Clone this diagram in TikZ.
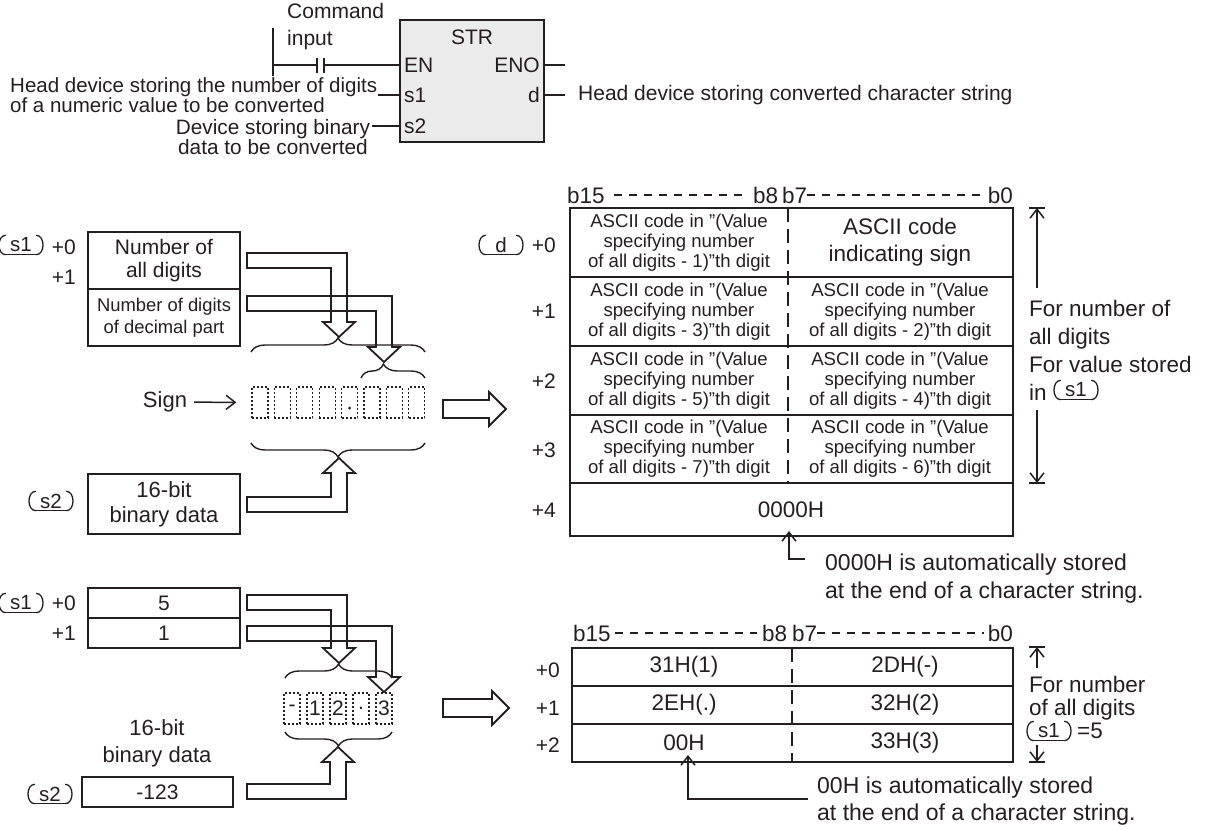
\documentclass[tikz,border=0pt]{standalone}
\usepackage{fontspec}
\setmainfont{Liberation Sans}
\usetikzlibrary{arrows.meta,decorations.pathreplacing}
\definecolor{ink}{HTML}{231F20}
\definecolor{fbgray}{HTML}{EBEBEB}

\tikzset{
  txt/.style={font=\fontsize{21}{24}\selectfont},
  txtb/.style={font=\fontsize{22.5}{28}\selectfont},
  cell/.style={font=\fontsize{18.6}{20}\selectfont,align=center},
  wire/.style={draw=ink,line width=1.8pt},
  frame/.style={draw=ink,line width=2pt},
  pipe/.style={draw=ink,line width=1.8pt,line join=miter},
  digit/.style={draw=ink,line width=1.3pt,dash pattern=on 2pt off 2pt,
    minimum width=16pt,minimum height=31pt,font=\fontsize{21}{24}\selectfont},
  brc/.style={draw=ink,line width=1.4pt,decorate,decoration={brace,amplitude=14pt}},
  divide/.style={draw=ink,line width=1.8pt,dash pattern=on 14pt off 7pt},
  hdash/.style={draw=ink,line width=1.4pt,dash pattern=on 8pt off 7pt},
  tip/.style={draw=ink,line width=1.5pt,-{Straight Barb[length=9pt,width=14pt]}},
  opedge/.style={draw=ink,line width=1.3pt},
  opnd/.style={font=\fontsize{20.5}{20}\selectfont,minimum width=30pt,minimum height=19pt,
    append after command={
      (\tikzlastnode.north west) edge[opedge,out=180,in=180,looseness=1.2] (\tikzlastnode.south west)
      (\tikzlastnode.south west) edge[opedge] (\tikzlastnode.south east)
      (\tikzlastnode.north east) edge[opedge,out=0,in=0,looseness=1.2] (\tikzlastnode.south east)}},
}

% hollow pipe going right then down: #1 top of pipe, #2 shaft centre, #3 head base
\newcommand{\pipedown}[3]{%
  \draw[pipe] (247,#1) -- ({#2+8},#1) -- ({#2+8},#3) -- ({#2+16},#3) -- (#2,{#3+15})
    -- ({#2-16},#3) -- ({#2-8},#3) -- ({#2-8},{#1+15}) -- (247,{#1+15}) -- cycle;}
% hollow pipe going right then up
\newcommand{\pipeup}[3]{%
  \draw[pipe] (247,#1) -- ({#2-8},#1) -- ({#2-8},#3) -- ({#2-16},#3) -- (#2,{#3-15})
    -- ({#2+16},#3) -- ({#2+8},#3) -- ({#2+8},{#1+15}) -- (247,{#1+15}) -- cycle;}
% big hollow arrow: #1 start x, #2 centre y, #3 end of shaft
\newcommand{\fatarrow}[3]{%
  \draw[pipe] (#1,{#2-9}) -- (#3,{#2-9}) -- (#3,{#2-17}) -- ({#3+17},#2)
    -- (#3,{#2+17}) -- (#3,{#2+9}) -- (#1,{#2+9}) -- cycle;}
\newcommand{\qq}{\symbol{34}}

\begin{document}
\begin{tikzpicture}[x=1pt,y=-1pt,every node/.append style={inner sep=0pt,text=ink}]
  \useasboundingbox (0,0) rectangle (1208,830);

  % Ladder block
  \node[draw=ink,line width=2pt,fill=fbgray,minimum width=144pt,minimum height=122pt] (str) at (472,81) {};
  \node[txt] (strname) at (472,37) {STR};
  \node[txt,anchor=west] (en) at (404,65) {EN};
  \node[txt,anchor=west] (pins1) at (404,95) {s1};
  \node[txt,anchor=west] (pins2) at (404,126) {s2};
  \node[txt,anchor=east] (eno) at (540,65) {ENO};
  \node[txt,anchor=east] (pind) at (540,95) {d};

  \coordinate (railtop) at (273,28);
  \coordinate (railbot) at (273,76);
  \coordinate (cona) at (317,65);
  \coordinate (conb) at (324,65);
  \coordinate (enoend) at (565,65);
  \coordinate (s1end) at (378,95);
  \draw[wire] (railtop) -- (railbot);
  \draw[wire] (railtop |- en) -- (cona);
  \draw[wire] (conb) -- (str.west |- en);
  \draw[wire] ([yshift=7.5pt]cona) -- ([yshift=-7.5pt]cona);
  \draw[wire] ([yshift=7.5pt]conb) -- ([yshift=-7.5pt]conb);
  \draw[wire] (str.east |- eno) -- (enoend);

  \node[txt,anchor=west,align=left,font=\fontsize{21}{27}\selectfont] (cmd) at (287,26.5) {Command\\input};
  \node[font=\fontsize{20.5}{18}\selectfont,anchor=west,align=left] (s1txt) at (10,95)
    {Head device storing the number of digits\\of a numeric value to be converted};
  \draw[wire] (s1end) -- (str.west |- pins1);
  \node[font=\fontsize{20.8}{20}\selectfont,align=center] (s2txt) at (273,137) {Device storing binary\\data to be converted};
  \draw[wire] ([xshift=2pt]s2txt.east |- pins2) -- (str.west |- pins2);
  \node[txt,anchor=west] (dtxt) at (578,95) {Head device storing converted character string};
  \draw[wire] (str.east |- pind) -- ([xshift=-13pt]dtxt.west);

  % Upper example (left)
  \node[opnd] (s1a) at (21,245) {s1};
  \node[txt,anchor=east] (s1a0) at (76,247) {+0};
  \node[txt,anchor=east] (s1a1) at (76,277) {+1};
  \node[frame,minimum width=152pt,minimum height=57pt,font=\fontsize{21}{23}\selectfont,align=center] (nall) at (164,260.5) {Number of\\all digits};
  \node[frame,minimum width=152pt,minimum height=57pt,font=\fontsize{18.4}{22}\selectfont,align=center] (ndec) at (164,317.5) {Number of digits\\of decimal part};
  \node[opnd] (s2a) at (51,501) {s2};
  \node[frame,minimum width=152pt,minimum height=60pt,font=\fontsize{22}{25}\selectfont,align=center] (bina) at (164,504) {16-bit\\binary data};

  \foreach \i in {1,...,8}
    \node[digit] (da\i) at ({260+(\i-1)*22.4},402.5) {};
  \fill[ink] ([yshift=-5.5pt]da5.center) circle (1.6pt);
  \node[font=\fontsize{22}{24}\selectfont] (sign) at (165,402) {Sign};
  \draw[tip,shorten <=7pt,shorten >=15pt] (sign) -- (da1);

  \draw[brc] (251,352) -- (425,352);
  \draw[brc,decoration={brace,amplitude=14pt,aspect=0.35}] (361,378) -- (425,378);
  \draw[brc] (425,443) -- (251,443);
  \pipedown{253}{339}{322}
  \pipedown{296}{384}{347}
  \pipeup{497}{339}{473}
  \fatarrow{443}{409}{489}

  % Result table (upper right)
  \node[txtb,anchor=west] (hb15) at (567,195) {b15};
  \node[txtb,anchor=west] (hb8) at (753,195) {b8};
  \node[txtb,anchor=west] (hb7) at (782,195) {b7};
  \node[txtb,anchor=east] (hb0) at (1013,195) {b0};
  \draw[hdash,shorten <=9pt,shorten >=5pt] (hb15) -- (hb8);
  \draw[hdash,shorten >=4pt] (hb7) -- (hb0);

  \draw[frame] (570,208) rectangle (1013,536);
  \foreach \y in {277,346,415,483}
    \draw[frame] (570,\y) -- (1013,\y);
  \draw[divide] (788,208) -- (788,483);

  \node[opnd] (od) at (501,245) {d};
  \node[txt,anchor=east] (ra0) at (556,245) {+0};
  \foreach \t/\y [count=\k] in {+1/311,+2/381,+3/450,+4/510}
    \node[txt,anchor=east] (ra\k) at (556,\y) {\t};

  \node[cell] (ca0) at (679,242.5) {ASCII code in \qq(Value\\specifying number\\of all digits - 1)\qq th digit};
  \node[txtb,align=center,font=\fontsize{22.5}{27}\selectfont] (cb0) at (900,242.5) {ASCII code\\indicating sign};
  \foreach \y/\a/\b [count=\k] in {311.5/3/2,380.5/5/4,449/7/6} {
    \node[cell] (ca\k) at (679,\y) {ASCII code in \qq(Value\\specifying number\\of all digits - \a)\qq th digit};
    \node[cell] (cb\k) at (900,\y) {ASCII code in \qq(Value\\specifying number\\of all digits - \b)\qq th digit};
  }
  \node[txtb] (zh) at (791,509.5) {0000H};

  \coordinate (n1) at (805,559);
  \coordinate (zhtip) at (789,531);
  \draw[tip] (n1) -| (zhtip);
  \node[font=\fontsize{23}{28}\selectfont,anchor=west,align=left] (note1) at (825,579)
    {0000H is automatically stored\\at the end of a character string.};

  \coordinate (dt1) at (1037,208);
  \coordinate (ds1) at (1037,288);
  \coordinate (db1) at (1037,483);
  \coordinate (de1) at (1037,410);
  \draw[wire] ([xshift=-8pt]dt1) -- ([xshift=8pt]dt1);
  \draw[wire] ([xshift=-8pt]db1) -- ([xshift=8pt]db1);
  \draw[tip] (ds1) -- (dt1);
  \draw[tip] (de1) -- (db1);
  \node[txtb,anchor=west,align=left] (dim1) at (1029,336) {For number of\\all digits\\For value stored};
  \node[txtb,anchor=west] (intxt) at (1029,392) {in};
  \node[opnd] (s1b) at (1076,390) {s1};

  % Lower example (left)
  \node[opnd] (s1c) at (21,603) {s1};
  \node[txt,anchor=east] (s1c0) at (76,603) {+0};
  \node[txt,anchor=east] (s1c1) at (76,633) {+1};
  \node[frame,minimum width=152pt,minimum height=30pt,txt] (v5) at (164,603) {5};
  \node[frame,minimum width=152pt,minimum height=30pt,txt] (v1) at (164,633) {1};
  \node[font=\fontsize{22}{27}\selectfont,align=center] (bintxt) at (157,743) {16-bit\\binary data};
  \node[opnd] (s2c) at (50,794) {s2};
  \node[frame,minimum width=151pt,minimum height=30pt,txt] (vneg) at (157.5,792) {-123};

  \foreach \d [count=\i] in {-,1,2,.,3}
    \node[digit] (db\i) at ({292+(\i-1)*23},708.5) {\d};

  \draw[brc] (285,678) -- (392,678);
  \draw[brc] (392,732) -- (285,732);
  \pipedown{595}{339}{648}
  \pipedown{626}{384}{677}
  \pipeup{784}{338}{762}
  \fatarrow{443}{708}{492}

  % Result table (lower right)
  \node[txtb,anchor=west] (lb15) at (573,633) {b15};
  \node[txtb,anchor=west] (lb8) at (762,633) {b8};
  \node[txtb,anchor=west] (lb7) at (792,633) {b7};
  \node[txtb,anchor=east] (lb0) at (1013,633) {b0};
  \draw[hdash,shorten <=4pt,shorten >=5pt] (lb15) -- (lb8);
  \draw[hdash,shorten >=4pt] (lb7) -- (lb0);

  \draw[frame] (572,648) rectangle (1013,762);
  \foreach \y in {686,724}
    \draw[frame] (572,\y) -- (1013,\y);
  \draw[divide] (792,648) -- (792,762);

  \foreach \t/\y [count=\k] in {+0/670,+1/708,+2/745}
    \node[txt,anchor=east] (rl\k) at (560,\y) {\t};
  \foreach \y/\a/\b [count=\k] in {667/31H(1)/2DH(-),705/2EH(.)/32H(2),743/00H/33H(3)} {
    \node[txtb] (la\k) at (684,\y) {\a};
    \node[txtb] (lb\k) at (905,\y) {\b};
  }

  \coordinate (n2) at (808,799);
  \coordinate (ohtip) at (688,755);
  \draw[tip] (n2) -| (ohtip);
  \node[font=\fontsize{23}{27}\selectfont,anchor=west,align=left] (note2) at (817,801.5)
    {00H is automatically stored\\at the end of a character string.};

  \coordinate (dt2) at (1037,647);
  \coordinate (ds2) at (1037,668);
  \coordinate (db2) at (1037,762);
  \coordinate (de2) at (1037,745);
  \draw[wire] ([xshift=-8pt]dt2) -- ([xshift=8pt]dt2);
  \draw[wire] ([xshift=-8pt]db2) -- ([xshift=8pt]db2);
  \draw[tip] (ds2) -- (dt2);
  \draw[tip] (de2) -- (db2);
  \node[font=\fontsize{22.5}{23}\selectfont,anchor=west,align=left] (dim2) at (1029,698.5) {For number\\of all digits};
  \node[opnd] (s1d) at (1049,731) {s1};
  \node[txtb,anchor=west] (eq5) at (1077,731) {=5};
\end{tikzpicture}
\end{document}
